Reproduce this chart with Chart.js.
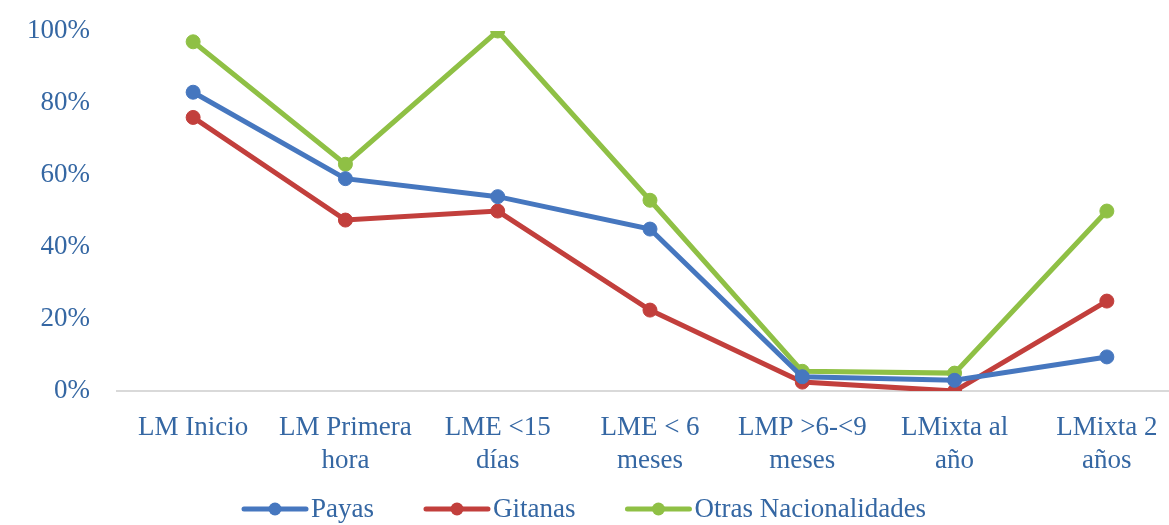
<!DOCTYPE html>
<html lang="es">
<head>
<meta charset="utf-8">
<title>Lactancia materna por grupo</title>
<script src="https://cdn.jsdelivr.net/npm/chart.js@4/dist/chart.umd.min.js"></script>
<style>
  html, body { margin: 0; padding: 0; background: #ffffff; overflow: hidden; }
  #wrap { position: relative; width: 1191px; height: 525px; }
</style>
</head>
<body>
<div id="wrap"><canvas id="chart"></canvas></div>
<script>
// Categorías del eje X (cada una en dos líneas)
const categories = [
  ['LM Inicio'],
  ['LM Primera', 'hora'],
  ['LME <15', 'días'],
  ['LME < 6', 'meses'],
  ['LMP >6-<9', 'meses'],
  ['LMixta al', 'año'],
  ['LMixta 2', 'años']
];

// Porcentajes por grupo
const payas = [83, 59, 54, 45, 4, 3, 9.5];
const gitanas = [76, 47.5, 50, 22.5, 2.5, 0, 25];
const otras = [97, 63, 100, 53, 5.5, 5, 50];

const seriesNames = ['Payas', 'Gitanas', 'Otras Nacionalidades'];
const yTicks = [0, 20, 40, 60, 80, 100];

const FONT = '"Liberation Serif", "Times New Roman", serif';
const FONT_SIZE = 27;
const TEXT_COLOR = '#3567a3';
const COLORS = ['#4677bf', '#c23f3c', '#8fc045'];

function lineDataset(label, data, color) {
  return {
    label, data,
    borderColor: color,
    backgroundColor: color,
    borderWidth: 5,
    pointRadius: 7,
    pointHoverRadius: 7,
    pointBorderWidth: 1,
    pointBorderColor: color,
    pointBackgroundColor: color,
    tension: 0,
    fill: false
  };
}

// Leyenda inferior: línea con marcador y texto
const bottomLegend = {
  id: 'bottomLegend',
  afterDraw(chart) {
    const ctx = chart.ctx;
    ctx.save();
    ctx.font = FONT_SIZE + 'px ' + FONT;
    const lineLen = 62, textGap = 5, itemGap = 52;
    let x = 244;
    const y = 509;
    chart.data.datasets.forEach(ds => {
      const color = ds.borderColor;
      ctx.strokeStyle = color;
      ctx.lineWidth = 5;
      ctx.lineCap = 'round';
      ctx.beginPath();
      ctx.moveTo(x, y);
      ctx.lineTo(x + lineLen, y);
      ctx.stroke();
      ctx.fillStyle = color;
      ctx.beginPath();
      ctx.arc(x + lineLen / 2, y, 6.5, 0, Math.PI * 2);
      ctx.fill();
      ctx.fillStyle = TEXT_COLOR;
      ctx.textAlign = 'left';
      ctx.textBaseline = 'alphabetic';
      ctx.fillText(ds.label, x + lineLen + textGap, y + 8);
      x += lineLen + textGap + ctx.measureText(ds.label).width + itemGap;
    });
    ctx.restore();
  }
};

new Chart(document.getElementById('chart'), {
  type: 'line',
  data: {
    labels: categories,
    datasets: [
      lineDataset(seriesNames[0], payas, COLORS[0]),
      lineDataset(seriesNames[1], gitanas, COLORS[1]),
      lineDataset(seriesNames[2], otras, COLORS[2])
    ]
  },
  options: {
    responsive: true,
    maintainAspectRatio: false,
    animation: false,
    layout: { padding: { left: 0, right: 0, top: 31, bottom: 28 } },
    plugins: {
      legend: { display: false },
      tooltip: { enabled: false }
    },
    scales: {
      x: {
        offset: true,
        grid: { display: false, drawTicks: false },
        border: { display: true, color: '#d9d9d9', width: 2 },
        ticks: {
          color: TEXT_COLOR,
          font: { family: FONT, size: FONT_SIZE, lineHeight: 1.22 },
          padding: 20,
          maxRotation: 0,
          autoSkip: false
        }
      },
      y: {
        min: 0,
        max: 100,
        afterBuildTicks(axis) { axis.ticks = yTicks.map(v => ({ value: v })); },
        // the top/bottom label overhang is handled by the layout padding
        afterFit(axis) { axis.paddingTop = 0; axis.paddingBottom = 0; },
        grid: { display: false, drawTicks: false },
        border: { display: false },
        ticks: {
          color: TEXT_COLOR,
          font: { family: FONT, size: FONT_SIZE },
          padding: 27,
          callback: v => v + '%'
        }
      }
    }
  },
  plugins: [bottomLegend]
});
</script>
</body>
</html>
